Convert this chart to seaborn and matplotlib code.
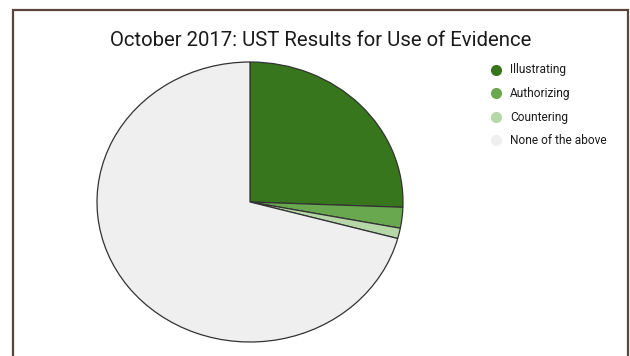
import matplotlib
matplotlib.use("Agg")
import matplotlib.pyplot as plt
from matplotlib.patches import Rectangle
from matplotlib.lines import Line2D
import seaborn as sns

# Share of each use of evidence (percent)
categories = ["Illustrating", "Authorizing", "Countering", "None of the above"]
shares = [25.6, 2.4, 1.2, 70.8]
colors = ["#38761d", "#6aa84f", "#b6d7a8", "#efefef"]
title = "October 2017: UST Results for Use of Evidence"

sns.set_theme(style="white")
plt.rcParams["font.family"] = ["Roboto", "DejaVu Sans"]

W, H = 630, 356
fig = plt.figure(figsize=(W / 100, H / 100), dpi=100)
fig.patch.set_facecolor("white")

# Pie area in pixel coordinates (left, top, right, bottom)
px_l, px_t, px_r, px_b = 97, 62, 403, 342
ax = fig.add_axes([px_l / W, 1 - px_b / H, (px_r - px_l) / W, (px_b - px_t) / H])
ax.pie(shares, colors=colors, startangle=90, counterclock=False,
       wedgeprops=dict(edgecolor="#333333", linewidth=0.9))
ax.set_aspect("auto")
ax.set_xlim(-1.0, 1.0)
ax.set_ylim(-1.0, 1.0)
ax.axis("off")
for w in ax.patches:
    w.set_clip_on(False)

fig.text(321 / W, 1 - 40 / H, title, ha="center", va="center",
         fontsize=14.7, color="#1a1a1a")

# Legend
leg_x_dot, leg_x_txt = 496, 510
leg_y = [70, 93, 117, 140]
for cat, col, y in zip(categories, colors, leg_y):
    fig.add_artist(Line2D([leg_x_dot / W], [1 - y / H], marker="o", markersize=7,
                          color=col, linestyle="none", transform=fig.transFigure))
    fig.text(leg_x_txt / W, 1 - y / H, cat, ha="left", va="center",
             fontsize=8.6, color="#1a1a1a")

# Frame around the chart
fig.add_artist(Rectangle((13 / W, -0.05), (628 - 13) / W, (1 - 10 / H) + 0.05,
                         transform=fig.transFigure, fill=False,
                         edgecolor="#5a4538", linewidth=1.6))

fig.savefig("out.png", dpi=100)
